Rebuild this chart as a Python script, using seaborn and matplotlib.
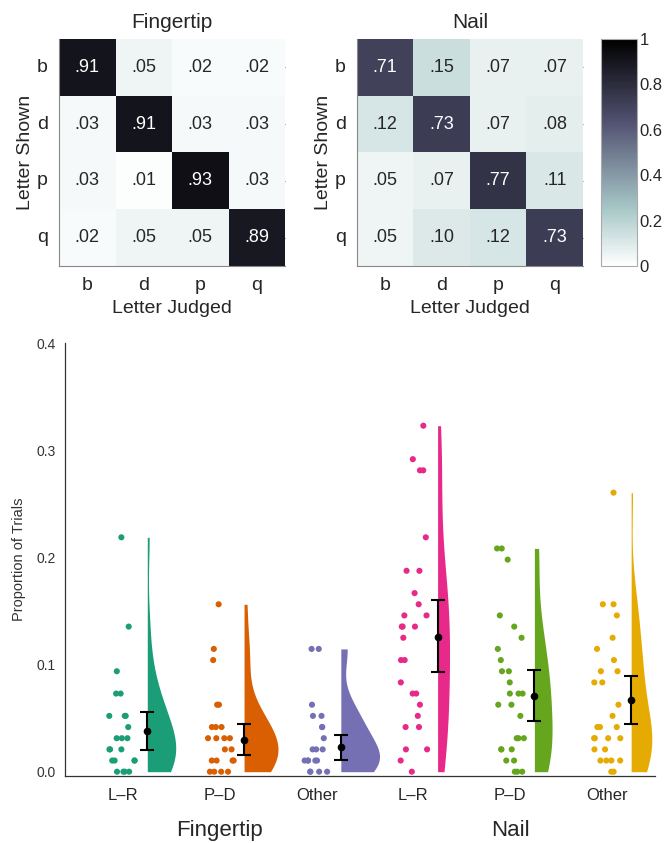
import numpy as np
import pandas as pd
import matplotlib.pyplot as plt
import seaborn as sns

# ---------------------------------------------------------------------------
# confusion matrices (rows = letter shown, cols = letter judged)
letters = ["b", "d", "p", "q"]
fingertip_conf = [[.91, .05, .02, .02],
                  [.03, .91, .03, .03],
                  [.03, .01, .93, .03],
                  [.02, .05, .05, .89]]
nail_conf = [[.71, .15, .07, .07],
             [.12, .73, .07, .08],
             [.05, .07, .77, .11],
             [.05, .10, .12, .73]]

# error types per participant, in trials out of 96
n_trials = 96
ft_lr = [0, 0, 0, 0, 1, 1, 1, 1, 2, 2, 2, 3, 3, 3, 4, 5, 5, 5, 7, 7, 9, 13, 21]
ft_pd = [0, 0, 0, 0, 1, 1, 1, 1, 2, 2, 3, 3, 3, 3, 4, 4, 4, 6, 6, 10, 11, 15]
ft_other = [0, 0, 0, 0, 1, 1, 1, 1, 1, 2, 2, 2, 3, 4, 4, 5, 5, 6, 11, 11]
nl_lr = [0, 1, 2, 2, 4, 4, 5, 6, 7, 7, 8, 10, 10, 12, 13, 13, 13, 14, 14, 15,
         16, 18, 18, 21, 27, 27, 28, 31]
nl_pd = [0, 0, 0, 1, 1, 2, 2, 2, 3, 3, 3, 5, 6, 6, 7, 7, 7, 8, 9, 9, 10, 11,
         12, 13, 14, 19, 20, 20]
nl_other = [0, 0, 1, 1, 1, 1, 2, 2, 3, 3, 3, 3, 4, 4, 4, 5, 6, 8, 8, 9, 9, 10,
            11, 12, 14, 15, 15, 25]

groups = ["ft_lr", "ft_pd", "ft_other", "nl_lr", "nl_pd", "nl_other"]
tick_labels = ["L\u2013R", "P\u2013D", "Other", "L\u2013R", "P\u2013D", "Other"]
group_names = ["Fingertip", "Nail"]

# mean and 95% CI
means = [0.038, 0.030, 0.0226, 0.126, 0.071, 0.0672]
ci_low = [0.0207, 0.0158, 0.0112, 0.0927, 0.0474, 0.0447]
ci_high = [0.0555, 0.0447, 0.0344, 0.160, 0.0945, 0.0896]

colors = sns.color_palette("Dark2", 6)

# ---------------------------------------------------------------------------
sns.set_style("white")
plt.rcParams["font.family"] = ["Liberation Sans", "DejaVu Sans"]

fig = plt.figure(figsize=(6.67, 8.43), dpi=100)
ax1 = fig.add_axes([0.0885, 0.6845, 0.339, 0.2693])
ax2 = fig.add_axes([0.535, 0.6845, 0.339, 0.2693])
cax = fig.add_axes([0.901, 0.6845, 0.054, 0.2693])
ax3 = fig.add_axes([0.0975, 0.0795, 0.885, 0.5135])


def fmt(v):
    return f"{v:.2f}"[1:]


for ax, mat, title, cb in [(ax1, fingertip_conf, "Fingertip", False),
                           (ax2, nail_conf, "Nail", True)]:
    mat = np.array(mat)
    annot = np.vectorize(fmt)(mat)
    sns.heatmap(mat, ax=ax, cmap="bone_r", vmin=0, vmax=1, annot=annot, fmt="",
                annot_kws={"fontsize": 13}, cbar=cb, cbar_ax=cax if cb else None,
                xticklabels=letters, yticklabels=letters, square=False)
    ax.set_title(title, fontsize=15, pad=8)
    ax.set_xlabel("Letter Judged", fontsize=14, labelpad=4)
    ax.set_ylabel("Letter Shown", fontsize=14, labelpad=2)
    ax.tick_params(axis="both", labelsize=14, length=3, color="#666666",
                   direction="in", top=True, right=True, pad=8)
    ax.tick_params(axis="y", rotation=0)
    for side in ["left", "bottom"]:
        ax.spines[side].set_visible(True)
        ax.spines[side].set_color("#888888")
        ax.spines[side].set_linewidth(0.8)

cbar = ax2.collections[0].colorbar
cbar.set_ticks([0, 0.2, 0.4, 0.6, 0.8, 1])
cbar.set_ticklabels(["0", "0.2", "0.4", "0.6", "0.8", "1"])
cbar.ax.tick_params(labelsize=12, length=0, pad=2)
cbar.outline.set_visible(True)
cbar.outline.set_edgecolor("#aaaaaa")
cbar.outline.set_linewidth(0.8)

# ---------------------------------------------------------------------------
rows = []
for g, vals in zip(groups, [ft_lr, ft_pd, ft_other, nl_lr, nl_pd, nl_other]):
    for v in vals:
        rows.append({"group": g, "prop": v / n_trials})
df = pd.DataFrame(rows)

n_before = len(ax3.collections)
sns.violinplot(data=df, x="group", y="prop", hue="group", order=groups,
               hue_order=groups, palette=colors, inner=None, cut=0,
               density_norm="area", common_norm=True, width=0.8,
               linewidth=0, saturation=1, legend=False, ax=ax3)
# keep only the right half of each violin and move it beside the dots
for coll in ax3.collections[n_before:]:
    new_verts = []
    for path in coll.get_paths():
        v = path.vertices.copy()
        center = np.round(v[:, 0].mean())
        v[:, 0] = np.maximum(v[:, 0], center) + 0.25
        new_verts.append(v)
    coll.set_verts(new_verts)

np.random.seed(3)
sns.stripplot(data=df, x="group", y="prop", hue="group", order=groups,
              hue_order=groups, palette=colors, jitter=0.15, size=4.4,
              linewidth=0, legend=False, ax=ax3)

pos = np.arange(len(groups)) + 0.25
ax3.errorbar(pos, means,
             yerr=[np.array(means) - np.array(ci_low),
                   np.array(ci_high) - np.array(means)],
             fmt="o", color="black", markersize=4.5, capsize=5,
             elinewidth=1.5, capthick=1.5, zorder=5)

ax3.set_xlim(-0.6, 5.5)
ax3.set_ylim(-0.004, 0.4)
ax3.set_yticks([0, 0.1, 0.2, 0.3, 0.4])
ax3.set_yticklabels(["0.0", "0.1", "0.2", "0.3", "0.4"])
ax3.set_xticks(range(len(groups)))
ax3.set_xticklabels(tick_labels)
ax3.tick_params(axis="x", labelsize=12, length=3, color="#333333", pad=6)
ax3.tick_params(axis="y", labelsize=10, length=3, color="#333333",
                labelcolor="#333333")
ax3.set_xlabel("")
ax3.set_ylabel("Proportion of Trials", fontsize=10.5, color="#333333",
               labelpad=8)
for side in ["top", "right"]:
    ax3.spines[side].set_visible(False)
for side in ["left", "bottom"]:
    ax3.spines[side].set_color("#333333")
    ax3.spines[side].set_linewidth(0.9)

for x, name in zip([1, 4], group_names):
    ax3.text(x, -0.125, name, transform=ax3.get_xaxis_transform(),
             ha="center", va="center", fontsize=16)

plt.savefig("out.png", dpi=100)
